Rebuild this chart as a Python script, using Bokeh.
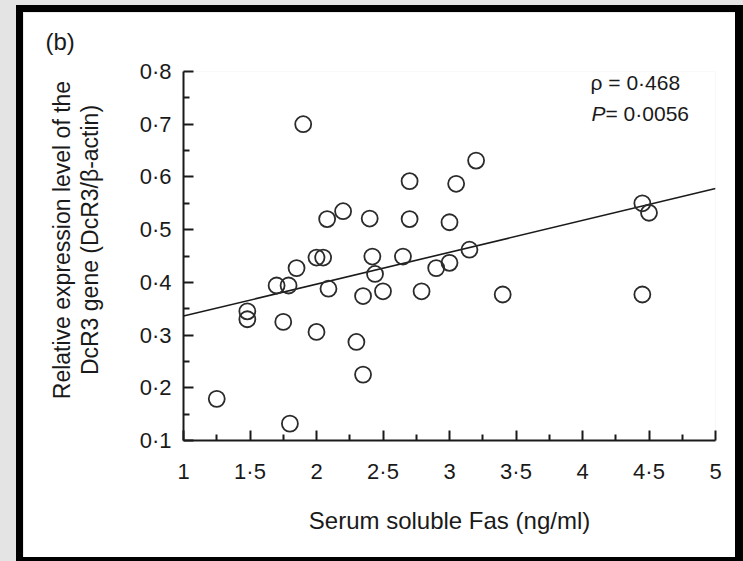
import math
from bokeh.plotting import figure
from bokeh.layouts import column
from bokeh.models import FixedTicker, Label, ColumnDataSource, Range1d
from bokeh.embed import file_html
from bokeh.resources import INLINE

# ---- data ----
sfas = [1.25, 1.48, 1.48, 1.70, 1.75, 1.79, 1.80, 1.85, 1.90, 2.00, 2.00, 2.05,
        2.08, 2.09, 2.20, 2.30, 2.35, 2.35, 2.40, 2.42, 2.44, 2.50, 2.65, 2.70,
        2.70, 2.79, 2.90, 3.00, 3.00, 3.05, 3.15, 3.20, 3.40, 4.45, 4.50, 4.45]
dcr3 = [0.179, 0.345, 0.330, 0.394, 0.325, 0.394, 0.132, 0.427, 0.700, 0.447, 0.306, 0.447,
        0.520, 0.388, 0.535, 0.287, 0.374, 0.225, 0.521, 0.449, 0.416, 0.383, 0.449, 0.592,
        0.520, 0.383, 0.427, 0.514, 0.437, 0.587, 0.462, 0.631, 0.377, 0.550, 0.532, 0.377]
fit_x = [1.0, 5.0]
fit_y = [0.336, 0.578]

x_ticks = [1.0, 1.5, 2.0, 2.5, 3.0, 3.5, 4.0, 4.5, 5.0]
x_tick_labels = ["1", "1·5", "2", "2·5", "3", "3·5", "4", "4·5", "5"]
x_minor = [1.25, 1.75, 2.25, 2.75, 3.25, 3.75, 4.25, 4.75]
y_ticks = [0.1, 0.2, 0.3, 0.4, 0.5, 0.6, 0.7, 0.8]
y_tick_labels = ["0·1", "0·2", "0·3", "0·4", "0·5", "0·6", "0·7", "0·8"]
y_minor = [0.15, 0.25, 0.35, 0.45, 0.55, 0.65, 0.75]

x_title = "Serum soluble Fas (ng/ml)"
y_title_lines = ["Relative expression level of the", "DcR3 gene (DcR3/β-actin)"]
panel_tag = "(b)"
rho_text = "ρ = 0·468"
p_text = " = 0·0056"

# ---- layout (inner white panel of the scanned page) ----
W, H = 712, 545
L, R, T, B = 160, 692, 57, 428
X0, X1, Y0, Y1 = 1.0, 5.0, 0.1, 0.8
FONT = "Liberation Sans"
INK = "#1a1a1a"
GREY = "#e4e4e4"
LIFT = "\u00a0" * 5   # nudges the centred y title up, as in the original


def dx(px):
    return X0 + (px - L) * (X1 - X0) / (R - L)


def dy(py):
    return Y0 + (B - py) * (Y1 - Y0) / (B - T)


p = figure(width=W, height=H, x_range=Range1d(X0, X1), y_range=Range1d(Y0, Y1),
           output_backend="svg", toolbar_location=None,
           min_border_left=L, min_border_right=W - R,
           min_border_top=T, min_border_bottom=H - B,
           styles={"box-shadow": "0px 0px 0px 7px black, 1px 0px 0px 7px black"})
p.background_fill_color = "white"
p.border_fill_color = "white"
p.outline_line_color = None
p.xgrid.visible = False
p.ygrid.visible = False

p.title.text = panel_tag
p.title.align = "left"
p.title.vertical_align = "top"
p.title.offset = 22 - L
p.title.standoff = 30
p.title.text_font = FONT
p.title.text_font_size = "24px"
p.title.text_font_style = "normal"
p.title.text_color = INK

for ax in (p.xaxis[0], p.yaxis[0]):
    ax.axis_line_color = INK
    ax.axis_line_width = 2
    ax.major_tick_line_color = INK
    ax.minor_tick_line_color = INK
    ax.major_tick_line_width = 2
    ax.minor_tick_line_width = 2
    ax.major_tick_in = 10
    ax.major_tick_out = 0
    ax.minor_tick_in = 6
    ax.minor_tick_out = 0
    ax.major_label_text_font = FONT
    ax.major_label_text_font_size = "22px"
    ax.major_label_text_color = INK
    ax.axis_label_text_font = FONT
    ax.axis_label_text_font_style = "normal"
    ax.axis_label_text_color = INK

p.xaxis.axis_label_text_font_size = "24px"
p.yaxis.axis_label_text_font_size = "23px"
p.yaxis.axis_label_text_line_height = 1.07

p.xaxis.ticker = FixedTicker(ticks=x_ticks, minor_ticks=x_minor)
p.yaxis.ticker = FixedTicker(ticks=y_ticks, minor_ticks=y_minor)
p.xaxis.major_label_overrides = dict(zip(x_ticks, x_tick_labels))
p.yaxis.major_label_overrides = dict(zip(y_ticks, y_tick_labels))
p.xaxis.major_label_standoff = 18
p.yaxis.major_label_standoff = 12
p.xaxis.axis_label = x_title
p.yaxis.axis_label = "\n".join(LIFT + s for s in y_title_lines)
p.xaxis.axis_label_standoff = 20
p.yaxis.axis_label_standoff = 34

src = ColumnDataSource(data=dict(x=sfas, y=dcr3))
p.line(fit_x, fit_y, line_color=INK, line_width=1.6)
p.scatter("x", "y", source=src, size=16, marker="circle", fill_color=None,
          line_color="#2b2b2b", line_width=1.8)


def add_text(px, py, txt, size="21px", align="left", style="normal"):
    p.add_layout(Label(x=dx(px), y=dy(py), text=txt, text_font=FONT,
                       text_font_size=size, text_align=align,
                       text_baseline="middle", text_font_style=style,
                       text_color=INK))


add_text(567, 68, rho_text)
add_text(568, 99, "P", style="italic")
add_text(582, 99, p_text)

page = column(p, styles={"background-color": GREY,
                         "padding": "12px 8px 4px 23px"})

open("out.html", "w").write(file_html(page, INLINE))
